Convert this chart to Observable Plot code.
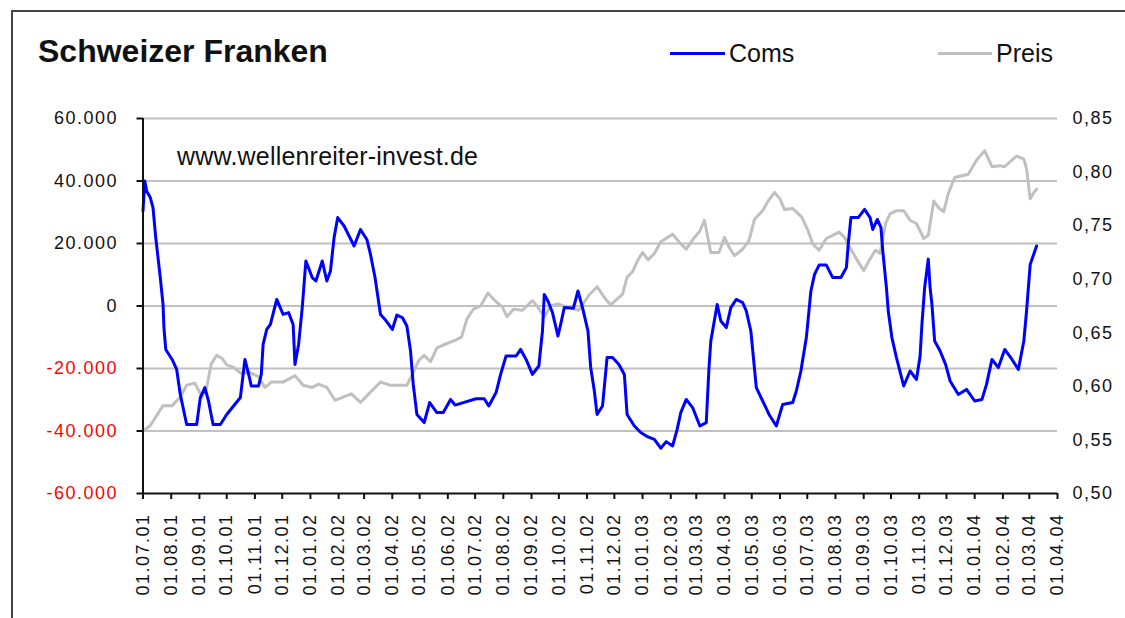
<!DOCTYPE html>
<html><head><meta charset="utf-8">
<script src="https://cdn.jsdelivr.net/npm/d3@7"></script>
<script src="https://cdn.jsdelivr.net/npm/@observablehq/plot@0.6"></script>
<style>
body{margin:0;background:#fff;}
#wrap{position:relative;width:1125px;height:618px;overflow:hidden;font-family:"Liberation Sans",Arial,sans-serif;color:#111;background:#fff;}
#frame{position:absolute;left:11px;top:10px;width:1200px;height:700px;border-left:2px solid #444;border-top:2px solid #444;pointer-events:none;}
#header{position:absolute;left:0;top:0;width:1125px;height:100px;}
#title{position:absolute;left:38px;top:35px;font-size:32px;line-height:32px;font-weight:bold;white-space:nowrap;}
.lg{position:absolute;font-size:25px;line-height:25px;top:41px;white-space:nowrap;}
.sw{position:absolute;height:3px;top:52px;}
#chart{position:absolute;left:0;top:100px;}
#wm{position:absolute;left:177px;top:144px;font-size:25px;line-height:25px;letter-spacing:0.2px;white-space:nowrap;color:#111;}
</style></head>
<body>
<div id="wrap">
  <div id="header">
    <div id="title">Schweizer Franken</div>
    <div class="sw" style="left:670px;width:55px;background:#0000ff;"></div>
    <div class="lg" style="left:729px;">Coms</div>
    <div class="sw" style="left:938px;width:54px;background:#c0c0c0;"></div>
    <div class="lg" style="left:996px;">Preis</div>
  </div>
  <div id="chart"></div>
  <div id="wm">www.wellenreiter-invest.de</div>
  <div id="frame"></div>
</div>
<script>
// ---- data ----
const comsDates = ["2001-07-01","2001-07-03","2001-07-05","2001-07-09","2001-07-12","2001-07-15","2001-07-20","2001-07-23","2001-07-24","2001-07-26","2001-08-02","2001-08-07","2001-08-11","2001-08-18","2001-08-29","2001-09-02","2001-09-07","2001-09-11","2001-09-16","2001-09-24","2001-10-01","2001-10-16","2001-10-21","2001-10-26","2001-10-28","2001-11-05","2001-11-08","2001-11-10","2001-11-14","2001-11-18","2001-11-25","2001-12-02","2001-12-08","2001-12-13","2001-12-15","2001-12-19","2001-12-23","2001-12-27","2002-01-03","2002-01-07","2002-01-14","2002-01-19","2002-01-23","2002-01-27","2002-01-31","2002-02-07","2002-02-18","2002-02-25","2002-03-04","2002-03-08","2002-03-13","2002-03-19","2002-03-24","2002-04-01","2002-04-06","2002-04-12","2002-04-17","2002-04-21","2002-04-24","2002-04-28","2002-05-06","2002-05-12","2002-05-20","2002-05-27","2002-06-04","2002-06-09","2002-06-18","2002-07-02","2002-07-11","2002-07-16","2002-07-24","2002-07-29","2002-08-04","2002-08-15","2002-08-20","2002-08-26","2002-09-02","2002-09-09","2002-09-13","2002-09-15","2002-09-19","2002-09-24","2002-09-30","2002-10-03","2002-10-07","2002-10-17","2002-10-22","2002-10-27","2002-11-02","2002-11-05","2002-11-09","2002-11-12","2002-11-18","2002-11-23","2002-11-29","2002-12-06","2002-12-12","2002-12-15","2002-12-23","2002-12-30","2003-01-07","2003-01-14","2003-01-21","2003-01-27","2003-02-03","2003-02-08","2003-02-12","2003-02-18","2003-02-25","2003-03-05","2003-03-12","2003-03-15","2003-03-17","2003-03-24","2003-03-28","2003-04-03","2003-04-08","2003-04-14","2003-04-21","2003-04-25","2003-04-30","2003-05-06","2003-05-13","2003-05-20","2003-05-28","2003-06-04","2003-06-15","2003-06-19","2003-06-24","2003-06-30","2003-07-05","2003-07-09","2003-07-14","2003-07-22","2003-07-29","2003-08-07","2003-08-13","2003-08-15","2003-08-18","2003-08-26","2003-09-02","2003-09-08","2003-09-11","2003-09-16","2003-09-20","2003-09-22","2003-09-26","2003-09-28","2003-10-02","2003-10-07","2003-10-15","2003-10-22","2003-10-29","2003-11-02","2003-11-04","2003-11-07","2003-11-11","2003-11-13","2003-11-15","2003-11-18","2003-11-24","2003-11-30","2003-12-05","2003-12-14","2003-12-23","2004-01-01","2004-01-09","2004-01-14","2004-01-20","2004-01-27","2004-02-03","2004-02-11","2004-02-18","2004-02-24","2004-02-27","2004-03-02","2004-03-09"];
const comsValues = [30400,40000,36800,34700,31500,21900,9100,600,-6900,-13900,-17100,-20300,-28300,-37900,-37900,-29300,-26100,-30400,-37900,-37900,-34700,-29300,-17100,-22900,-25600,-25600,-21900,-12300,-7500,-5900,2100,-2700,-2100,-5900,-18700,-12300,-500,14400,9100,8000,14400,8000,11200,21900,28300,25600,19200,24500,21300,16500,9100,-2700,-4300,-7500,-2900,-3700,-6400,-14400,-25100,-34700,-37300,-30900,-34100,-34100,-29900,-31700,-30900,-29700,-29700,-32000,-27700,-21900,-16000,-16000,-13900,-17100,-21900,-19200,-8000,3700,1600,-2100,-9600,-5900,-500,-700,4800,-500,-8000,-19700,-27200,-34700,-32000,-16500,-16500,-18700,-21900,-34700,-38400,-40500,-41900,-42700,-45500,-43400,-44800,-39500,-34100,-29900,-32500,-38400,-37300,-19700,-11200,500,-4800,-6900,-500,2100,1100,-1600,-8000,-26100,-30400,-34700,-38400,-31500,-30900,-27200,-20800,-10100,4800,10100,13100,13100,9100,9100,12300,19700,28300,28300,30900,28300,24500,27700,25100,17600,5900,-1600,-10100,-16500,-25600,-20800,-23500,-16000,-5900,5900,15000,5900,500,-11200,-14400,-18700,-24000,-28300,-26700,-30400,-29900,-25100,-17100,-19700,-13900,-17100,-20300,-11200,-1600,13300,19200];

const preisDates = ["2001-07-01","2001-07-09","2001-07-23","2001-08-02","2001-08-11","2001-08-18","2001-08-27","2001-09-04","2001-09-09","2001-09-14","2001-09-20","2001-09-26","2001-10-01","2001-10-08","2001-10-17","2001-10-26","2001-11-05","2001-11-12","2001-11-19","2001-12-02","2001-12-15","2001-12-24","2002-01-03","2002-01-10","2002-01-19","2002-01-28","2002-02-06","2002-02-15","2002-02-25","2002-03-06","2002-03-19","2002-03-30","2002-04-17","2002-04-24","2002-04-30","2002-05-06","2002-05-13","2002-05-20","2002-05-31","2002-06-09","2002-06-16","2002-06-22","2002-06-29","2002-07-07","2002-07-15","2002-07-24","2002-07-31","2002-08-05","2002-08-12","2002-08-22","2002-09-02","2002-09-07","2002-09-15","2002-09-22","2002-09-30","2002-10-10","2002-10-23","2002-11-03","2002-11-12","2002-11-20","2002-11-27","2002-12-10","2002-12-15","2002-12-21","2002-12-27","2003-01-01","2003-01-07","2003-01-14","2003-01-21","2003-02-03","2003-02-12","2003-02-18","2003-02-27","2003-03-05","2003-03-10","2003-03-17","2003-03-26","2003-04-01","2003-04-06","2003-04-12","2003-04-21","2003-04-28","2003-05-04","2003-05-13","2003-05-19","2003-05-26","2003-06-01","2003-06-06","2003-06-15","2003-06-25","2003-07-02","2003-07-07","2003-07-14","2003-07-22","2003-07-29","2003-08-05","2003-08-11","2003-08-16","2003-08-24","2003-09-01","2003-09-08","2003-09-14","2003-09-19","2003-09-25","2003-09-30","2003-10-07","2003-10-15","2003-10-22","2003-10-29","2003-11-06","2003-11-11","2003-11-17","2003-11-22","2003-11-28","2003-12-03","2003-12-10","2003-12-25","2004-01-03","2004-01-12","2004-01-20","2004-01-29","2004-02-03","2004-02-16","2004-02-24","2004-02-27","2004-03-02","2004-03-06","2004-03-09"];
const preisValues = [0.558,0.5635,0.582,0.582,0.590,0.601,0.603,0.590,0.599,0.621,0.629,0.626,0.620,0.618,0.612,0.613,0.609,0.599,0.604,0.604,0.610,0.601,0.599,0.602,0.599,0.587,0.590,0.593,0.585,0.593,0.604,0.601,0.601,0.613,0.624,0.629,0.623,0.636,0.640,0.643,0.646,0.663,0.672,0.675,0.687,0.679,0.674,0.665,0.672,0.671,0.680,0.675,0.665,0.675,0.677,0.674,0.671,0.685,0.693,0.683,0.676,0.686,0.702,0.707,0.718,0.725,0.718,0.724,0.735,0.742,0.733,0.728,0.739,0.745,0.755,0.725,0.725,0.739,0.730,0.722,0.728,0.736,0.756,0.764,0.773,0.781,0.775,0.765,0.766,0.758,0.745,0.733,0.727,0.738,0.741,0.744,0.739,0.731,0.719,0.708,0.719,0.727,0.724,0.752,0.761,0.764,0.764,0.755,0.752,0.738,0.741,0.773,0.767,0.763,0.780,0.795,0.798,0.811,0.820,0.805,0.806,0.805,0.815,0.812,0.803,0.775,0.781,0.784];

const leftTicksPos = [0, 20000, 40000, 60000];
const leftTicksNeg = [-60000, -40000, -20000];
const gridTicks = [-40000, -20000, 0, 20000, 40000, 60000];
const rightTicks = [0.50, 0.55, 0.60, 0.65, 0.70, 0.75, 0.80, 0.85];
const xStart = "2001-07-01", xEnd = "2004-04-01";

// ---- helpers ----
const loc = d3.formatLocale({decimal: ",", thousands: ".", grouping: [3], currency: ["", "€"], minus: "-"});
const fmtLeft = loc.format(",");
const fmtRight = loc.format(".2f");
const pMin = 0.50, pMax = 0.85, yMin = -60000, yMax = 60000;
const toLeft = p => yMin + (p - pMin) / (pMax - pMin) * (yMax - yMin);
const fromLeft = v => pMin + (v - yMin) / (yMax - yMin) * (pMax - pMin);

const coms = comsDates.map((d, i) => ({date: new Date(d), value: comsValues[i]}));
const preis = preisDates.map((d, i) => ({date: new Date(d), value: preisValues[i]}));
const x0 = new Date(xStart), x1 = new Date(xEnd);
const months = d3.utcMonth.range(x0, d3.utcDay.offset(x1, 1));

const chart = Plot.plot({
  width: 1125,
  height: 518,
  marginLeft: 142.5,
  marginRight: 68,
  marginTop: 18,
  marginBottom: 125,
  style: {fontFamily: "'Liberation Sans', Arial, sans-serif", fontSize: "18px", letterSpacing: "1.5px", color: "#111", background: "transparent", overflow: "visible"},
  x: {type: "utc", domain: [x0, x1]},
  y: {domain: [yMin, yMax]},
  marks: [
    Plot.gridY({ticks: gridTicks, stroke: "#c0c0c0", strokeOpacity: 1, strokeWidth: 2}),
    Plot.line(preis, {x: "date", y: d => toLeft(d.value), stroke: "#c0c0c0", strokeWidth: 3}),
    Plot.line(coms, {x: "date", y: "value", stroke: "#0000ff", strokeWidth: 3}),
    Plot.ruleX([x0], {stroke: "#111", strokeWidth: 2}),
    Plot.ruleY([yMin], {stroke: "#111", strokeWidth: 2}),
    Plot.axisY({ticks: leftTicksPos, tickFormat: fmtLeft, tickSize: 6, tickPadding: 19, stroke: "#111", fill: "#111", strokeWidth: 2, label: null}),
    Plot.axisY({ticks: leftTicksNeg, tickFormat: fmtLeft, tickSize: 6, tickPadding: 19, stroke: "#111", fill: "#ff0000", strokeWidth: 2, label: null}),
    Plot.axisY({anchor: "right", ticks: rightTicks.map(toLeft), tickFormat: v => fmtRight(fromLeft(v)), tickSize: 0, tickPadding: 15, fill: "#111", label: null}),
    Plot.axisX({ticks: months, tickFormat: "%d.%m.%y", tickRotate: -90, tickSize: 6, tickPadding: 14, stroke: "#111", fill: "#111", strokeWidth: 2, label: null, letterSpacing: "1px"})
  ]
});
document.getElementById("chart").appendChild(chart);
</script>
</body></html>
